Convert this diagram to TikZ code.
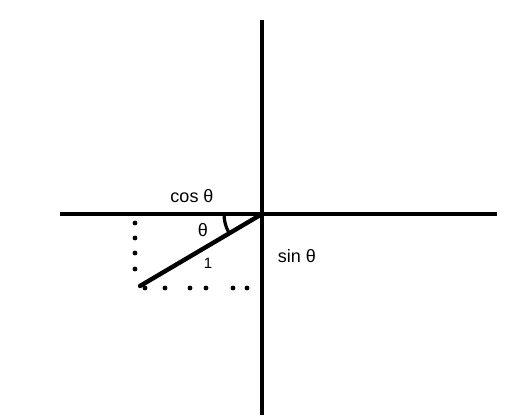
\documentclass[tikz,border=0pt]{standalone}
\usepackage{fontspec}
\setmainfont{Liberation Sans}
\usepackage{tikz}
\usetikzlibrary{positioning}

\begin{document}
\begin{tikzpicture}[x=1pt,y=-1pt,
  axis/.style={line width=4.8pt,black},
  lbl/.style={font=\fontsize{18}{21}\selectfont,inner sep=0pt}]
  \useasboundingbox (0,0) rectangle (529,419);
  \coordinate (O) at (262,214);
  \coordinate (xl) at (60,214);
  \coordinate (xr) at (497,214);
  \coordinate (yt) at (262,20);
  \coordinate (yb) at (262,415);
  \coordinate (P) at (140,286);
  \draw[axis] (xl) -- (xr);
  \draw[axis] (yt) -- (yb);
  \draw[line width=4.4pt,line cap=round] (O) -- (P);
  % angle mark
  \draw[line width=3.2pt] (224,214) arc[start angle=180,end angle=152,radius=38];
  % dotted projections
  \foreach \y in {223,238,253,269}{
    \fill (135,\y) circle (2.4pt);
  }
  \foreach \x in {145,165,190,206,233,247}{
    \fill (\x,288) circle (2.4pt);
  }
  \node[lbl] (cos) at (192,196) {cos θ};
  \node[lbl] (th) at (203,230) {θ};
  \node[lbl,font=\fontsize{15}{17}\selectfont] (one) at (208,263) {1};
  \node[lbl] (sin) at (297,256) {sin θ};
\end{tikzpicture}
\end{document}
